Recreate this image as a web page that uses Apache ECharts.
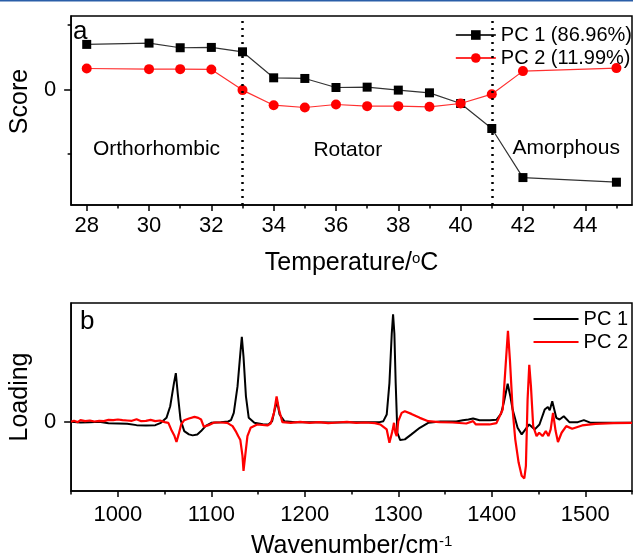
<!DOCTYPE html>
<html><head><meta charset="utf-8">
<script src="https://cdn.jsdelivr.net/npm/echarts@6/dist/echarts.min.js"></script>
<style>html,body{margin:0;padding:0;background:#fff}#c{width:633px;height:560px}</style>
</head><body><div id="c"></div>
<script>
// ---------- panel a : PCA scores ----------
const temperatures = [28, 30, 31, 32, 33, 34, 35, 36, 37, 38, 39, 40, 41, 42, 45];
const pc1Score = [0.70, 0.72, 0.648, 0.653, 0.585, 0.181, 0.171, 0.031, 0.036, -0.010, -0.052, -0.218, -0.606, -1.368, -1.44];
const pc2Score = [0.326, 0.316, 0.316, 0.311, -0.01, -0.244, -0.28, -0.233, -0.259, -0.259, -0.269, -0.218, -0.073, 0.285, 0.332];
const phaseBoundaries = [33, 41];
const phaseNames = ['Orthorhombic', 'Rotator', 'Amorphous'];
const phaseLabelX = [30.24, 36.38, 43.39];
const phaseLabelY = [-0.93, -0.95, -0.91];
const tempMajorTicks = [28, 30, 32, 34, 36, 38, 40, 42, 44];
const tempMinorTicks = [29, 31, 33, 35, 37, 39, 41, 43, 45];
const scoreTicks = [0];
const scoreMinorTicks = [-1, 1];

// ---------- panel b : PCA loadings ----------
const pc1Wn = [950, 960, 970, 980, 990, 1000, 1010, 1020, 1030, 1040, 1046, 1052, 1056, 1060, 1062, 1064, 1067, 1071, 1076, 1080, 1085, 1089, 1094, 1100, 1110, 1118, 1121, 1124, 1128, 1131, 1132.6, 1134.4, 1137, 1140, 1146, 1155, 1161, 1165, 1168, 1170.5, 1173, 1178, 1190, 1210, 1230, 1250, 1270, 1280, 1284, 1287.6, 1290.5, 1293, 1294.4, 1295.8, 1297.2, 1299, 1302, 1307, 1314, 1323, 1332, 1345, 1362, 1369, 1375, 1380, 1387, 1398, 1405, 1410, 1413, 1417, 1420, 1422.3, 1427.6, 1432, 1436, 1440, 1446, 1451, 1456.6, 1460, 1462, 1464.7, 1469, 1472.5, 1477, 1483, 1492, 1498.5, 1506, 1520, 1535, 1550];
const pc1Loading = [0.0, -0.02, -0.01, 0.0, -0.04, -0.05, -0.06, -0.1, -0.11, -0.1, -0.03, 0.12, 0.47, 1.17, 1.47, 0.87, 0.07, -0.28, -0.38, -0.41, -0.38, -0.28, -0.12, -0.03, -0.01, 0.01, 0.05, 0.27, 1.07, 2.07, 2.57, 1.97, 0.77, 0.12, -0.03, -0.07, -0.08, 0.02, 0.4, 0.6, 0.22, 0.02, -0.01, -0.01, -0.02, -0.01, -0.01, -0.01, 0.02, 0.22, 1.17, 2.67, 3.25, 2.67, 1.17, -0.33, -0.55, -0.53, -0.38, -0.18, -0.03, 0.01, 0.01, 0.05, 0.07, 0.1, 0.05, 0.05, 0.06, 0.25, 0.6, 1.15, 0.75, 0.37, -0.18, -0.38, -0.23, -0.08, -0.23, -0.08, 0.37, 0.45, 0.35, 0.62, 0.12, 0.07, 0.17, -0.01, -0.01, 0.05, -0.03, -0.03, -0.03, -0.03];
const pc2Wn = [950, 953, 957, 960, 965, 970, 975, 980, 985, 990, 995, 1000, 1005, 1010, 1015, 1020, 1025, 1030, 1035, 1040, 1045, 1050, 1054, 1057, 1060.6, 1062.7, 1065, 1067.7, 1071, 1076, 1082, 1086, 1089, 1092, 1097, 1103, 1110, 1117, 1122.7, 1126, 1128.7, 1130, 1131, 1133.3, 1134.4, 1136.2, 1138.6, 1142, 1149, 1160, 1163.5, 1167, 1169.8, 1170.9, 1172.3, 1176, 1185, 1195, 1205, 1215, 1225, 1235, 1245, 1255, 1265, 1275, 1280.6, 1287.6, 1290.5, 1291.9, 1293.7, 1295.4, 1296.9, 1298.3, 1300, 1303.6, 1307, 1314, 1323, 1332, 1344, 1358, 1372.7, 1380, 1383, 1397.6, 1405, 1411.7, 1415.2, 1417.3, 1419.4, 1422.3, 1425.1, 1428.7, 1432, 1434.8, 1436.5, 1438.3, 1440.1, 1441.9, 1444.3, 1447.9, 1450.7, 1454.3, 1457.8, 1460.6, 1463, 1465.5, 1468.3, 1470.8, 1474.7, 1479.7, 1486, 1496.6, 1510.8, 1530, 1550];
const pc2Loading = [0.0, 0.03, -0.01, 0.05, 0.02, 0.04, 0.01, 0.03, 0.02, 0.06, 0.05, 0.07, 0.05, 0.04, 0.03, 0.08, 0.02, 0.03, 0.06, 0.02, 0.04, -0.01, -0.03, -0.23, -0.43, -0.61, -0.38, -0.08, 0.05, 0.1, 0.15, 0.12, 0.07, -0.15, -0.1, -0.02, -0.02, -0.03, -0.13, -0.28, -0.43, -0.4, -0.55, -1.03, -1.48, -1.03, -0.43, -0.18, -0.08, -0.11, -0.05, 0.27, 0.77, 0.82, 0.37, -0.01, -0.03, 0.0, -0.03, -0.01, -0.04, -0.02, 0.0, -0.03, -0.02, -0.04, -0.08, -0.23, -0.63, -0.68, -0.28, -0.03, -0.33, -0.43, 0.02, 0.27, 0.32, 0.24, 0.12, 0.02, -0.01, -0.02, -0.05, 0.02, -0.08, -0.08, -0.04, 0.37, 1.87, 2.75, 1.87, 0.37, -0.53, -1.23, -1.63, -1.71, -1.33, 0.67, 1.72, 1.07, -0.13, -0.43, -0.33, -0.43, -0.28, -0.43, -0.23, 0.27, -0.28, -0.61, -0.33, -0.13, -0.21, -0.11, -0.06, -0.04, -0.03];
const wnMajorTicks = [1000, 1100, 1200, 1300, 1400, 1500];
const wnMinorTicks = [950, 1050, 1150, 1250, 1350, 1450, 1550];
const loadingTicks = [0];

const FONT = 'Liberation Sans, Arial, sans-serif';
const pairs = (xs, ys) => xs.map((x, i) => [x, ys[i]]);
const plain = v => String(v);

const chart = echarts.init(document.getElementById('c'), null, {renderer: 'canvas'});

function mainX(grid, min, max, ticks, name, nameGap, labelMargin) {
  return {
    type: 'value', gridIndex: grid, min: min, max: max, position: 'bottom',
    name: name, nameLocation: 'middle', nameGap: nameGap,
    nameTextStyle: {fontFamily: FONT, fontSize: 25, color: '#000',
      rich: {sup: {fontFamily: FONT, fontSize: 15, color: '#000', verticalAlign: 'top'}}},
    axisLine: {show: true, onZero: false, lineStyle: {color: '#000', width: 1.5}},
    axisTick: {show: true, inside: false, length: 6, customValues: ticks, lineStyle: {color: '#000', width: 1.5}},
    axisLabel: {show: true, customValues: ticks, formatter: plain, margin: labelMargin, fontFamily: FONT, fontSize: 22, color: '#000'},
    splitLine: {show: false}
  };
}
function minorX(grid, min, max, ticks) {
  return {
    type: 'value', gridIndex: grid, min: min, max: max, position: 'bottom',
    axisLine: {show: false, onZero: false},
    axisTick: {show: true, inside: false, length: 3.5, customValues: ticks, lineStyle: {color: '#000', width: 1.5}},
    axisLabel: {show: false}, splitLine: {show: false}
  };
}

const option = {
  animation: false,
  backgroundColor: '#fff',
  graphic: [
    {type: 'rect', shape: {x: 0, y: 0, width: 633, height: 1.5}, style: {fill: '#2a5ea8'}},
    {type: 'text', left: 73, top: 19, style: {text: 'a', fontFamily: FONT, fontSize: 26, fill: '#000'}},
    {type: 'text', left: 80, top: 309, style: {text: 'b', fontFamily: FONT, fontSize: 26, fill: '#000'}}
  ],
  grid: [
    {left: 68, right: 1, top: 16, height: 189, show: true, borderColor: '#000', borderWidth: 1.5, backgroundColor: 'transparent'},
    {left: 68, right: 1, top: 303, height: 189, show: true, borderColor: '#000', borderWidth: 1.5, backgroundColor: 'transparent'}
  ],
  legend: [
    {
      right: -4, top: 20, orient: 'vertical', itemGap: 3, itemWidth: 40, itemHeight: 12,
      textStyle: {fontFamily: FONT, fontSize: 20, color: '#000', lineHeight: 20},
      data: ['PC 1 (86.96%)', 'PC 2 (11.99%)']
    },
    {
      right: 0, top: 304, orient: 'vertical', itemGap: 3, itemWidth: 45, itemHeight: 20,
      textStyle: {fontFamily: FONT, fontSize: 20, color: '#000', lineHeight: 20},
      data: [
        {name: 'PC 1', icon: 'path://M0,9L45,9L45,11L0,11Z'},
        {name: 'PC 2', icon: 'path://M0,9L45,9L45,11L0,11Z'}
      ]
    }
  ],
  xAxis: [
    mainX(0, 27.5, 45.5, tempMajorTicks, 'Temperature/{sup|o}C', 46, 10),
    minorX(0, 27.5, 45.5, tempMinorTicks),
    mainX(1, 950, 1550, wnMajorTicks, 'Wavenumber/cm{sup|-1}', 43, 13),
    minorX(1, 950, 1550, wnMinorTicks)
  ],
  yAxis: [
    {
      type: 'value', gridIndex: 0, min: -1.794, max: 1.141, position: 'left',
      name: 'Score', nameLocation: 'middle', nameGap: 32,
      nameTextStyle: {fontFamily: FONT, fontSize: 25, color: '#000', padding: [0, 0, 0, 18]},
      axisLine: {show: true, onZero: false, lineStyle: {color: '#000', width: 1.5}},
      axisTick: {show: true, length: 7, customValues: scoreTicks, lineStyle: {color: '#000', width: 1.5}},
      axisLabel: {show: true, customValues: scoreTicks, formatter: plain, margin: 15, fontFamily: FONT, fontSize: 22, color: '#000'},
      splitLine: {show: false}
    },
    {
      type: 'value', gridIndex: 0, min: -1.794, max: 1.141, position: 'left',
      axisLine: {show: false, onZero: false},
      axisTick: {show: true, length: 3.5, customValues: scoreMinorTicks, lineStyle: {color: '#000', width: 1.5}},
      axisLabel: {show: false}, splitLine: {show: false}
    },
    {
      type: 'value', gridIndex: 1, min: -2.09, max: 3.59, position: 'left',
      name: 'Loading', nameLocation: 'middle', nameGap: 30,
      nameTextStyle: {fontFamily: FONT, fontSize: 25, color: '#000'},
      axisLine: {show: true, onZero: false, lineStyle: {color: '#000', width: 1.5}},
      axisTick: {show: true, length: 7, customValues: loadingTicks, lineStyle: {color: '#000', width: 1.5}},
      axisLabel: {show: true, customValues: loadingTicks, formatter: plain, margin: 15, fontFamily: FONT, fontSize: 22, color: '#000'},
      splitLine: {show: false}
    }
  ],
  series: [
    {
      name: 'PC 1 (86.96%)', type: 'line', xAxisIndex: 0, yAxisIndex: 0,
      data: pairs(temperatures, pc1Score),
      symbol: 'rect', symbolSize: 9,
      lineStyle: {color: '#333', width: 1.2}, itemStyle: {color: '#000'},
      markLine: {
        silent: true, symbol: ['none', 'none'], label: {show: false},
        lineStyle: {color: '#000', width: 2.5, type: [2, 5]},
        data: phaseBoundaries.map(v => ({xAxis: v}))
      },
      z: 3
    },
    {
      name: 'PC 2 (11.99%)', type: 'line', xAxisIndex: 0, yAxisIndex: 0,
      data: pairs(temperatures, pc2Score),
      symbol: 'circle', symbolSize: 10,
      lineStyle: {color: '#ff3030', width: 1.2}, itemStyle: {color: '#ff0000'},
      z: 4
    },
    {
      name: 'phases', type: 'scatter', xAxisIndex: 0, yAxisIndex: 0,
      symbolSize: 0, silent: true, itemStyle: {color: 'rgba(0,0,0,0)', opacity: 1},
      data: phaseNames.map((n, i) => ({name: n, value: [phaseLabelX[i], phaseLabelY[i]]})),
      label: {show: true, position: [0, 0], align: 'center', verticalAlign: 'middle',
        formatter: p => p.name, fontFamily: FONT, fontSize: 21, color: '#000', textBorderWidth: 0},
      z: 5
    },
    {
      name: 'PC 1', type: 'line', xAxisIndex: 2, yAxisIndex: 2,
      data: pairs(pc1Wn, pc1Loading), symbol: 'none', showSymbol: false,
      lineStyle: {color: '#000', width: 2}, itemStyle: {color: '#000'}, z: 3
    },
    {
      name: 'PC 2', type: 'line', xAxisIndex: 2, yAxisIndex: 2,
      data: pairs(pc2Wn, pc2Loading), symbol: 'none', showSymbol: false,
      lineStyle: {color: '#ff0000', width: 2.2}, itemStyle: {color: '#ff0000'}, z: 4
    }
  ]
};
chart.setOption(option);
</script>
</body></html>
